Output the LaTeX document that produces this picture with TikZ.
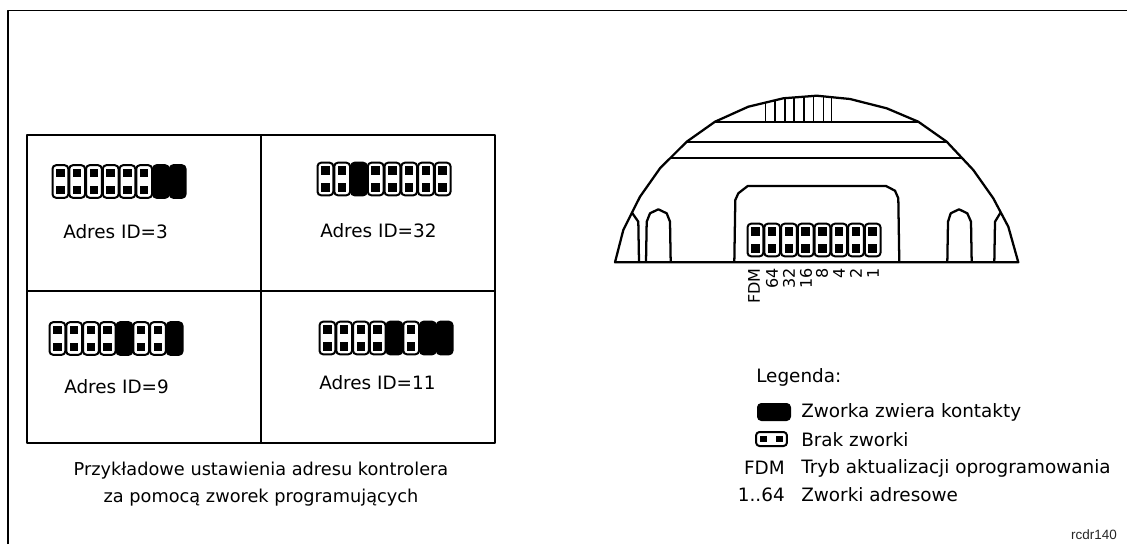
\documentclass[tikz,border=0pt]{standalone}
\usepackage{fontspec}
\setmainfont{DejaVu Sans}
\newfontfamily\smallfont{Liberation Sans}
\usetikzlibrary{positioning}

% row of eight jumpers: left edge, vertical centre, styles
\newcommand{\jumperrow}[3]{%
  \foreach \kind [count=\n from 0] in {#3} {
    \node[\kind] (j\n) at ({#1+8.4+16.75*\n},#2) {};
    \node[pin] at ([yshift=-6.4pt]j\n.center) {};
    \node[pin] at ([yshift=6.4pt]j\n.center) {};
  }%
}

\begin{document}
\begin{tikzpicture}[
      x=0.75pt, y=-0.75pt,
      line join=round,
      label/.style={font=\fontsize{13.8pt}{16pt}\selectfont, inner sep=0pt},
      caption/.style={label, anchor=west},
      legend/.style={label, anchor=west},
      legendkey/.style={label, anchor=east},
      gridline/.style={line width=1.5pt},
      frameline/.style={line width=1.4pt},
      domeline/.style={line width=1.7pt},
      thinline/.style={line width=1.1pt},
      open/.style={rectangle, rounded corners=2.6pt, draw=black, fill=white, line width=1.5pt, minimum width=11.8pt, minimum height=24.4pt, inner sep=0pt},
      closed/.style={open, fill=black},
      pin/.style={rectangle, fill=black, minimum size=6.4pt, inner sep=0pt}
  ]
  \useasboundingbox (0,0) rectangle (1127,544);

  % Frame
  \draw[frameline] (8,544) -- (8,10.5) -- (1127,10.5);

  % Examples grid
  \draw[gridline] (27,135) rectangle (495,443);
  \draw[gridline] (261,135) -- (261,443);
  \draw[gridline] (27,291) -- (495,291);

  % Examples
  \jumperrow{52}{181.5}{open,open,open,open,open,open,closed,closed}
  \node[caption] (id3) at (63,232) {Adres ID=3};
  \jumperrow{317}{179}{open,open,closed,open,open,open,open,open}
  \node[caption] (id32) at (320,231) {Adres ID=32};
  \jumperrow{49}{338.5}{open,open,open,open,closed,open,open,closed}
  \node[caption] (id9) at (64,387) {Adres ID=9};
  \jumperrow{319}{338}{open,open,open,open,closed,open,closed,closed}
  \node[caption] (id11) at (319,383) {Adres ID=11};

  \node[inner sep=0pt, align=center, font=\fontsize{13.3pt}{20.25pt}\selectfont] (note) at (261,484.5) {Przykładowe ustawienia adresu kontrolera\\za pomocą zworek programujących};

  % Reader outline
  \draw[domeline] (615,262.3) -- (623.3,230) -- (640,196.7) -- (660,168.3) -- (686.7,141.7) -- (715,121.7)
    -- (748.3,106.7) -- (783.3,98.3) -- (816.7,95.7) -- (850,99) -- (886.7,108.3) -- (918.3,121.7)
    -- (946.7,141.7) -- (973.3,170) -- (993.3,198.3) -- (1008.3,226.7) -- (1018.3,262.3) -- cycle;
  \draw[domeline] (715,122.3) -- (918,122.3);
  \draw[domeline] (687,141.7) -- (947,141.7);
  \draw[domeline] (670,157.7) -- (963,157.7);

  % Grille
  \foreach \xg/\yg in {765.7/103.3, 775/100.7, 785/98.3, 794/97.3, 804/96.3, 813.3/95.7, 823.3/96, 831.7/97}
    \draw[thinline] (\xg,\yg) -- (\xg,122.3);

  % Window and arches
  \draw[domeline] (734.3,262.3) -- (735.3,200) -- (738.3,193.3) -- (747.7,186) -- (886,186) -- (895,190.7) -- (898.3,198.3) -- (899.3,262.3);
  \draw[domeline] (646,262.3) -- (646.7,221.7) -- (650,213.3) -- (658.3,209.3) -- (666.7,213.3) -- (670,221.7) -- (670.7,262.3);
  \draw[domeline] (947.3,262.3) -- (948,221.7) -- (950.7,213.3) -- (959,209.3) -- (967.3,213.3) -- (971,221.7) -- (971.7,262.3);
  \draw[domeline] (631.7,212.3) -- (638.3,221.7) -- (639,262.3);
  \draw[domeline] (1000.7,212.3) -- (995,221.7) -- (994.3,262.3);

  % Reader jumpers
  \jumperrow{747}{240}{open,open,open,open,open,open,open,open}
  \foreach \xl/\txt in {754/FDM, 772/64, 789/32, 806/16, 822/8, 839/4, 856/2, 873/1}
    \node[inner sep=0pt, font=\fontsize{12pt}{14pt}\selectfont, rotate=90, anchor=east] (pin\txt) at (\xl,268) {\txt};

  % Legend
  \node[legend] (legtitle) at (756,377) {Legenda:};
  \node[closed, rotate=90, minimum width=12pt, minimum height=24pt] (legclosed) at (774,412) {};
  \node[open, rotate=90, minimum width=10.5pt, minimum height=23.2pt] (legopen) at (771.5,439) {};
  \node[pin, minimum size=5pt] at ([xshift=-6pt]legopen.center) {};
  \node[pin, minimum size=5pt] at ([xshift=6pt]legopen.center) {};
  \node[legend] (legz) at (801,412) {Zworka zwiera kontakty};
  \node[legend] (legb) at (801,440) {Brak zworki};
  \node[legend] (legt) at (801,468) {Tryb aktualizacji oprogramowania};
  \node[legend] (lega) at (801,495) {Zworki adresowe};
  \node[legendkey] (legf) at (785,468) {FDM};
  \node[legendkey] (legn) at (785,495) {1..64};

  \node[font=\smallfont\fontsize{10.1pt}{12pt}\selectfont, inner sep=0pt, anchor=east, text=black!85] (code) at (1117,535) {rcdr140};
\end{tikzpicture}
\end{document}
